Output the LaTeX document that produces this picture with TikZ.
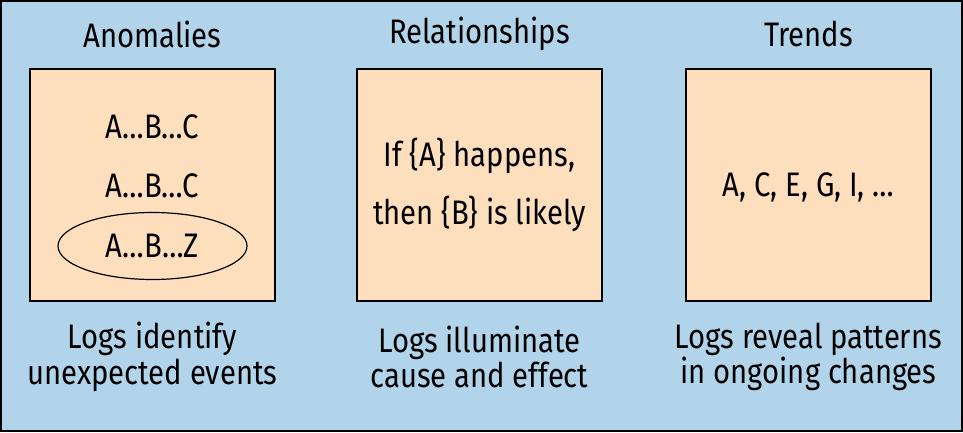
\documentclass[tikz,border=0pt]{standalone}
\usepackage{fontspec}
\setmainfont{Fira Sans}[FakeStretch=0.86]
\usepackage{tikz}
\usetikzlibrary{shapes.geometric}

\definecolor{bgblue}{RGB}{178,212,234}
\definecolor{peach}{RGB}{253,222,189}

\tikzset{
  panel/.style={draw=black, fill=peach, line width=0.9, minimum width=245*0.75pt, minimum height=232*0.75pt, inner sep=0pt},
  txt/.style={inner sep=0.75pt, font=\fontsize{25.5}{30}\selectfont, align=center},
  captxt/.style={inner sep=0.75pt, font=\fontsize{25.5}{26.5}\selectfont, align=center}
}

\begin{document}
\begin{tikzpicture}[x=0.75pt,y=0.75pt,yscale=-1,xscale=1]
%set diagram at 963 x 432
\useasboundingbox (0,0) rectangle (963,432);

%Background
\draw [fill=bgblue, line width=1.5] (1,1) rectangle (961.5,430.5);

%Boxes
\node [panel] (anobox) at (152.5,185) {};
\node [panel] (relbox) at (479.5,185) {};
\node [panel] (trebox) at (808.5,185) {};

% Text Node
\node [txt] (anotitle) at (152.5,34) {Anomalies};
% Text Node
\node [txt] (reltitle) at (479.5,34) {Relationships};
% Text Node
\node [txt] (tretitle) at (808.5,34) {Trends};

% Text Node
\node [txt] (seqa) at (152.5,127) {A…B…C};
\node [txt] (seqb) at (152.5,186) {A…B…C};
\node [txt, draw=black, line width=0.9, ellipse, minimum width=189*0.75pt, minimum height=67*0.75pt] (seqz) at (152.5,246) {A…B…Z};

% Text Node
\node [txt] (ifa) at (479.5,156) {If \{A\} happens,};
\node [txt] (thenb) at (479.5,214) {then \{B\} is likely};

% Text Node
\node [txt] (series) at (808.5,187) {A, C, E, G, I, …};

% Text Node
\node [captxt] (anocap) at (152.5,357) {Logs identify\\unexpected events};
% Text Node
\node [captxt] (relcap) at (479.5,357) {Logs illuminate\\cause and effect};
% Text Node
\node [captxt] (trecap) at (808.5,357) {Logs reveal patterns\\in ongoing changes};

\end{tikzpicture}
\end{document}
